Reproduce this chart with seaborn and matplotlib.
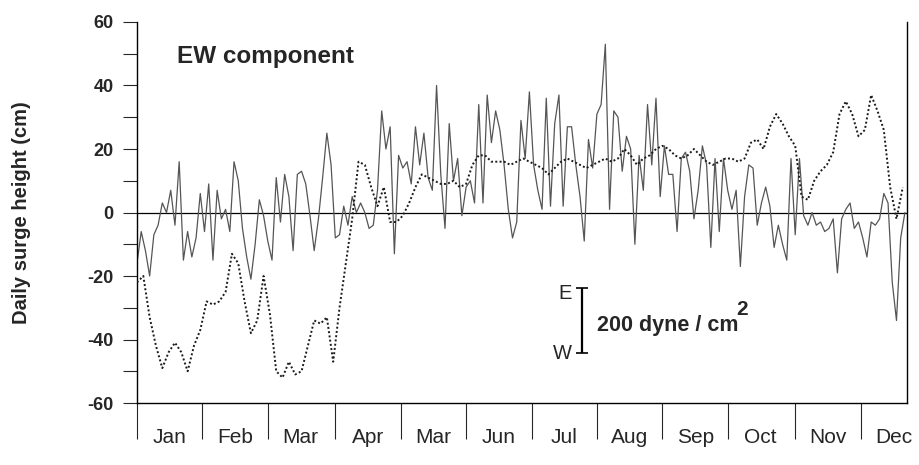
import matplotlib
matplotlib.use("Agg")
import matplotlib.pyplot as plt
import seaborn as sns
import numpy as np
import pandas as pd

# surge height (dotted), read every 3rd day
surge_days = np.arange(0, 366, 3)
surge_cm = [
    -22, -20, -33, -42, -49, -44, -41, -44, -50, -42,
    -37, -28, -29, -28, -25, -13, -16, -28, -38, -34,
    -20, -32, -50, -52, -47, -51, -50, -42, -34, -35,
    -33, -47, -30, -16, -2, 16, 15, 8, 2, 8,
    -3, -3, -1, 3, 8, 12, 11, 10, 9, 9,
    10, 8, 9, 15, 18, 18, 16, 16, 16, 15,
    16, 17, 16, 15, 14, 12, 14, 16, 17, 16,
    15, 14, 15, 16, 17, 16, 17, 20, 18, 15,
    17, 18, 20, 21, 20, 18, 17, 18, 20, 18,
    16, 15, 16, 17, 17, 16, 17, 22, 23, 20,
    27, 31, 28, 24, 21, 5, 4, 10, 13, 15,
    19, 31, 35, 31, 24, 26, 37, 32, 26, 8,
    -2, 8,
]

# EW wind stress component (solid), read every 2nd day, in surge-cm scale
stress_days = np.arange(0, 365, 2)
stress_cm = [
    -16, -6, -12, -20, -7, -4, 3, 0, 7, -4,
    16, -15, -6, -14, -8, 6, -6, 9, -15, 7,
    -2, 1, -6, 16, 10, -5, -14, -21, -10, 4,
    -1, -9, -15, 11, -3, 12, 5, -12, 12, 13,
    9, -1, -12, -2, 11, 25, 15, -8, -7, 2,
    -4, 5, 0, 3, 0, -5, -4, 7, 32, 20,
    27, -13, 18, 14, 16, 9, 27, 15, 25, 11,
    7, 40, 12, -5, 28, 10, 17, -1, 8, 10,
    3, 34, 3, 37, 22, 32, 26, 15, 1, -8,
    -3, 29, 17, 38, 15, 7, 1, 36, 2, 28,
    37, 2, 27, 27, 15, 5, -9, 23, 14, 31,
    34, 53, 1, 32, 30, 13, 24, 20, -10, 18,
    7, 34, 15, 36, 5, 21, 12, 12, -6, 17,
    19, 13, -2, 7, 21, 15, -11, 17, -6, 17,
    7, 1, 7, -17, 5, 15, 14, -4, 3, 8,
    2, -11, -4, -10, -15, 17, -7, 17, -1, -4,
    0, -4, -3, -6, -5, -2, -19, -2, 1, 3,
    -5, -3, -8, -14, -3, -4, -2, 6, 3, -22,
    -34, -8, 0,
]

month_labels = ["Jan", "Feb", "Mar", "Apr", "Mar", "Jun",
                "Jul", "Aug", "Sep", "Oct", "Nov", "Dec"]
month_starts = [0, 31, 62, 94, 125, 156, 187, 218, 249, 280, 312, 343]

surge = pd.DataFrame({"day": surge_days, "cm": surge_cm})
stress = pd.DataFrame({"day": stress_days, "cm": stress_cm})

sns.set_style("ticks")
plt.rcParams["font.family"] = ["Liberation Sans", "DejaVu Sans"]
plt.rcParams["axes.unicode_minus"] = False

fig = plt.figure(figsize=(9.2, 4.65), dpi=100)
ax = fig.add_axes([0.1489, 0.1333, 0.837, 0.8194])

ax.axhline(0, color="black", lw=0.9, zorder=1)
sns.lineplot(data=stress, x="day", y="cm", ax=ax, color="#555555", lw=0.9, zorder=2)
sns.lineplot(data=surge, x="day", y="cm", ax=ax, color="#1a1a1a", lw=1.4,
             linestyle=(0, (1, 1.2)), zorder=3)

ax.set_xlim(0, 365)
ax.set_ylim(-60, 60)

# month boundaries as ticks, names centred between them
ax.set_xticks(month_starts)
ax.set_xticklabels([])
ax.tick_params(axis="x", which="major", length=26, width=0.8, direction="out")
mids = [s + 15.6 for s in month_starts]
ax.set_xticks(mids, minor=True)
ax.set_xticklabels(month_labels, minor=True, fontsize=15)
ax.tick_params(axis="x", which="minor", length=0, pad=18)

ax.set_yticks(range(-60, 61, 20))
ax.set_yticklabels([str(v) for v in range(-60, 61, 20)], fontsize=13, fontweight="bold")
ax.set_yticks(range(-50, 51, 20), minor=True)
ax.tick_params(axis="y", which="both", length=10, width=0.8, direction="out", pad=7)

ax.set_xlabel("")
ax.set_ylabel("Daily surge height (cm)", fontsize=14.5, fontweight="bold")
ax.yaxis.set_label_coords(-0.137, 0.5)

for side in ["left", "bottom", "right"]:
    ax.spines[side].set_color("black")
    ax.spines[side].set_linewidth(1.0)
ax.spines["top"].set_visible(False)

ax.text(19, 49, "EW component", fontsize=17.5, fontweight="bold", va="center", ha="left")

# stress scale bar
ax.errorbar([211], [-34], yerr=[[10.3], [10.3]], color="black", lw=1.6,
            capsize=4, capthick=1.2)
ax.text(206, -25.5, "E", fontsize=14.5, va="center", ha="right")
ax.text(206, -44.5, "W", fontsize=14.5, va="center", ha="right")
ax.text(218, -35.5, "200 dyne / cm", fontsize=15.5, fontweight="bold", va="center", ha="left")
ax.text(284, -30.5, "2", fontsize=15, fontweight="bold", va="center", ha="left")

fig.savefig("out.png", dpi=100)
